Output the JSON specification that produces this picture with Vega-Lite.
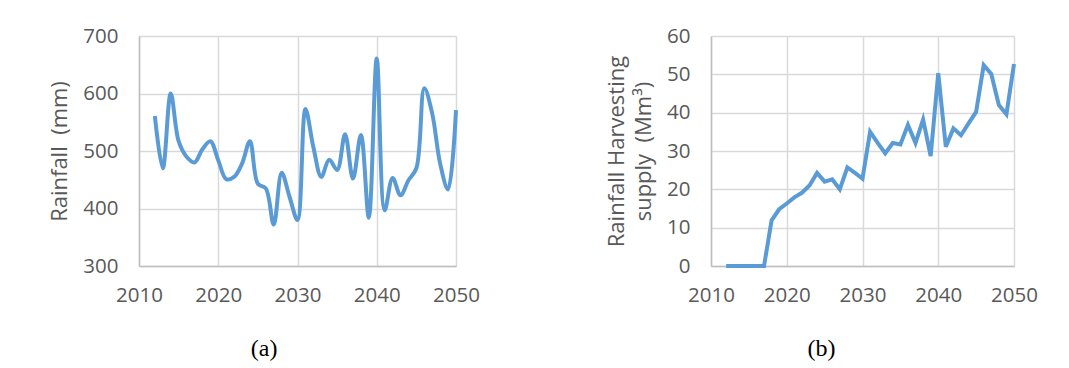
{
  "$schema": "https://vega.github.io/schema/vega-lite/v6.json",
  "background": "white",
  "padding": {"left": 48, "top": 26, "right": 5, "bottom": 5},
  "spacing": 125,
  "config": {
    "view": {"stroke": null},
    "axis": {
      "labelFont": "Open Sans", "labelFontSize": 20.5, "labelColor": "#595959",
      "titleFont": "Open Sans", "titleFontSize": 22, "titleColor": "#595959", "titleFontWeight": "normal",
      "ticks": false, "tickSize": 0, "gridColor": "#d9d9d9", "gridWidth": 1.5,
      "domainColor": "#bfbfbf", "domainWidth": 1.5
    },
    "title": {"font": "Liberation Serif", "fontSize": 24, "fontWeight": "normal", "color": "#000000"}
  },
  "datasets": {
    "rain": [
      {"year": 2012, "rainfall": 561}, {"year": 2013, "rainfall": 470}, {"year": 2014, "rainfall": 600},
      {"year": 2015, "rainfall": 517}, {"year": 2016, "rainfall": 490}, {"year": 2017, "rainfall": 480},
      {"year": 2018, "rainfall": 503}, {"year": 2019, "rainfall": 517}, {"year": 2020, "rainfall": 484},
      {"year": 2021, "rainfall": 451}, {"year": 2022, "rainfall": 455}, {"year": 2023, "rainfall": 478},
      {"year": 2024, "rainfall": 517}, {"year": 2025, "rainfall": 443}, {"year": 2026, "rainfall": 435},
      {"year": 2027, "rainfall": 372}, {"year": 2028, "rainfall": 462}, {"year": 2029, "rainfall": 420},
      {"year": 2030, "rainfall": 380}, {"year": 2031, "rainfall": 573}, {"year": 2032, "rainfall": 507},
      {"year": 2033, "rainfall": 455}, {"year": 2034, "rainfall": 485}, {"year": 2035, "rainfall": 467},
      {"year": 2036, "rainfall": 529}, {"year": 2037, "rainfall": 452}, {"year": 2038, "rainfall": 528},
      {"year": 2039, "rainfall": 384}, {"year": 2040, "rainfall": 661}, {"year": 2041, "rainfall": 397},
      {"year": 2042, "rainfall": 453}, {"year": 2043, "rainfall": 423}, {"year": 2044, "rainfall": 449},
      {"year": 2045, "rainfall": 470}, {"year": 2046, "rainfall": 609}, {"year": 2047, "rainfall": 565},
      {"year": 2048, "rainfall": 478}, {"year": 2049, "rainfall": 433}, {"year": 2050, "rainfall": 571}
    ],
    "supply": [
      {"year": 2012, "supply": 0}, {"year": 2013, "supply": 0}, {"year": 2014, "supply": 0},
      {"year": 2015, "supply": 0}, {"year": 2016, "supply": 0}, {"year": 2017, "supply": 0},
      {"year": 2018, "supply": 11.9}, {"year": 2019, "supply": 14.8}, {"year": 2020, "supply": 16.3},
      {"year": 2021, "supply": 17.9}, {"year": 2022, "supply": 19.1}, {"year": 2023, "supply": 21.0},
      {"year": 2024, "supply": 24.3}, {"year": 2025, "supply": 22.0}, {"year": 2026, "supply": 22.6},
      {"year": 2027, "supply": 20.0}, {"year": 2028, "supply": 25.7}, {"year": 2029, "supply": 24.3},
      {"year": 2030, "supply": 22.8}, {"year": 2031, "supply": 35.0}, {"year": 2032, "supply": 32.1},
      {"year": 2033, "supply": 29.4}, {"year": 2034, "supply": 32.1}, {"year": 2035, "supply": 31.7},
      {"year": 2036, "supply": 36.8}, {"year": 2037, "supply": 32.1}, {"year": 2038, "supply": 38.2},
      {"year": 2039, "supply": 28.7}, {"year": 2040, "supply": 50.3}, {"year": 2041, "supply": 31.1},
      {"year": 2042, "supply": 35.9}, {"year": 2043, "supply": 34.1}, {"year": 2044, "supply": 37.2},
      {"year": 2045, "supply": 40.2}, {"year": 2046, "supply": 52.4}, {"year": 2047, "supply": 50.1},
      {"year": 2048, "supply": 42.0}, {"year": 2049, "supply": 39.6}, {"year": 2050, "supply": 52.7}
    ]
  },
  "hconcat": [
    {
      "width": 317, "height": 230,
      "data": {"name": "rain"},
      "title": {"text": "(a)", "orient": "bottom", "anchor": "middle", "frame": "bounds", "offset": 31},
      "mark": {"type": "line", "interpolate": "catmull-rom", "color": "#5b9bd5", "strokeWidth": 4},
      "encoding": {
        "x": {"field": "year", "type": "quantitative",
          "scale": {"domain": [2010, 2050], "nice": false, "zero": false},
          "axis": {"title": null, "values": [2010, 2020, 2030, 2040, 2050], "format": "d", "labelPadding": 19, "labelFlush": false}},
        "y": {"field": "rainfall", "type": "quantitative",
          "scale": {"domain": [300, 700], "nice": false, "zero": false},
          "axis": {"title": "Rainfall\u00a0\u00a0(mm)", "values": [300, 400, 500, 600, 700], "labelPadding": 21, "titlePadding": 11}}
      }
    },
    {
      "width": 303, "height": 230,
      "data": {"name": "supply"},
      "title": {"text": "(b)", "orient": "bottom", "anchor": "middle", "frame": "bounds", "offset": 31},
      "mark": {"type": "line", "color": "#5b9bd5", "strokeWidth": 4, "strokeJoin": "miter"},
      "encoding": {
        "x": {"field": "year", "type": "quantitative",
          "scale": {"domain": [2010, 2050], "nice": false, "zero": false},
          "axis": {"title": null, "values": [2010, 2020, 2030, 2040, 2050], "format": "d", "labelPadding": 19, "labelFlush": false}},
        "y": {"field": "supply", "type": "quantitative",
          "scale": {"domain": [0, 60], "nice": false},
          "axis": {"title": ["Rainfall Harvesting", "supply\u00a0\u00a0(Mm³)"], "titleLineHeight": 27, "values": [0, 10, 20, 30, 40, 50, 60], "labelPadding": 21, "titlePadding": 11}}
      }
    }
  ]
}
